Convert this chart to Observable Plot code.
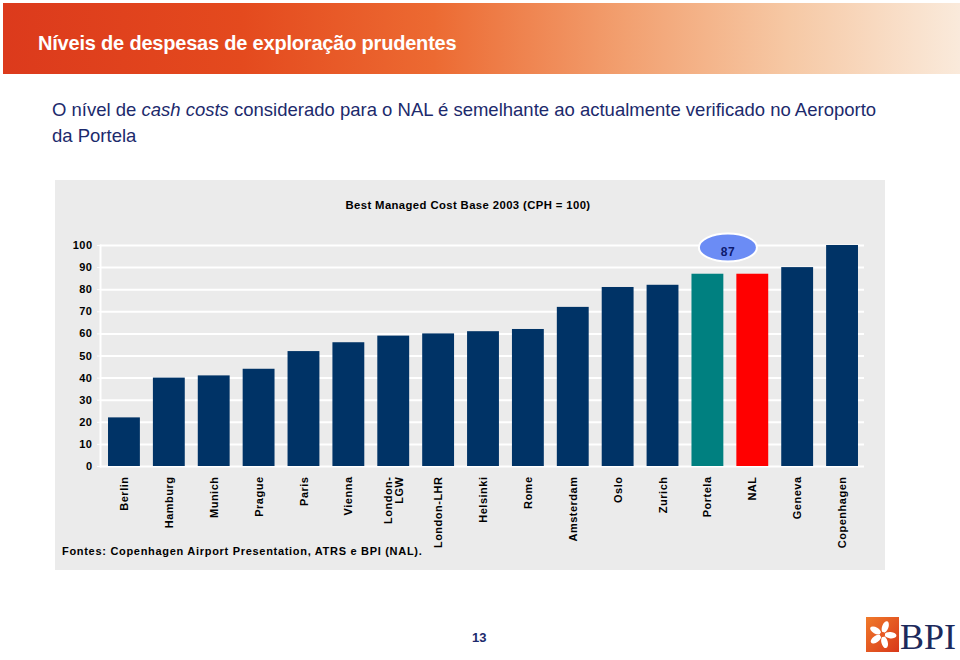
<!DOCTYPE html>
<html><head><meta charset="utf-8">
<script src="https://cdn.jsdelivr.net/npm/d3@7"></script>
<script src="https://cdn.jsdelivr.net/npm/@observablehq/plot@0.6"></script>
<style>
body{margin:0;width:960px;height:660px;position:relative;background:#fff;font-family:Arial,"Liberation Sans",sans-serif;overflow:hidden}
#banner{position:absolute;left:3px;top:3px;width:957px;height:71px;
 background:linear-gradient(90deg,#dc3a1c 0%,#e44a1e 25%,#ec6a32 45%,#f2a070 65%,#f6c8a4 82%,#faeadb 100%)}
#banner h1{position:absolute;left:35px;top:29px;margin:0;font-size:20px;font-weight:bold;color:#fff;letter-spacing:-0.2px}
#sub{position:absolute;left:52px;top:97px;width:860px;font-size:18.5px;line-height:26px;color:#1c2a6c;white-space:nowrap}
#sub .l{display:block}
#panel{position:absolute;left:55px;top:180px;width:830px;height:390px;background:#ebebeb}
#ptitle{position:absolute;left:0;width:826px;top:19px;text-align:center;font-size:11.3px;font-weight:bold;letter-spacing:0.4px;color:#000}
#note{position:absolute;left:7px;top:365px;font-size:11px;font-weight:bold;letter-spacing:0.7px;color:#000}
#chart{position:absolute;left:0;top:0}
#chart svg text{letter-spacing:0.5px}
#page{position:absolute;left:472px;top:630px;font-size:13px;font-weight:bold;color:#1c2a6c}
#logo{position:absolute;left:866px;top:616px}
</style></head><body>
<div id="banner"><h1>Níveis de despesas de exploração prudentes</h1></div>
<div id="sub"><div class="l"><span>O nível de </span><i>cash costs</i><span> considerado para o NAL é semelhante ao actualmente verificado no Aeroporto</span></div><div class="l"><span>da Portela</span></div></div>
<div id="panel">
  <div id="chart"></div>
  <div id="ptitle">Best Managed Cost Base 2003 (CPH = 100)</div>
  <div id="note">Fontes: Copenhagen Airport Presentation, ATRS e BPI (NAL).</div>
</div>
<div id="page">13</div>
<svg id="logo" width="94" height="40" viewBox="0 0 94 40">
  <defs><linearGradient id="lg" x1="0" y1="0" x2="1" y2="1"><stop offset="0" stop-color="#f07a2a"/><stop offset="1" stop-color="#d8381a"/></linearGradient></defs>
  <rect x="0" y="1" width="33" height="35" fill="url(#lg)"/>
  <g fill="#fff" transform="translate(16.5,18.5)">
    <ellipse cx="0" cy="-8" rx="3.2" ry="6" transform="rotate(20)"/>
    <ellipse cx="0" cy="-8" rx="3.2" ry="6" transform="rotate(95)"/>
    <ellipse cx="0" cy="-8" rx="3.2" ry="6" transform="rotate(165)"/>
    <ellipse cx="0" cy="-8" rx="3.2" ry="6" transform="rotate(235)"/>
    <ellipse cx="0" cy="-8" rx="3.2" ry="6" transform="rotate(300)"/>
    <circle r="2.5" fill="#e85a24"/>
  </g>
  <text x="34" y="33" font-family="'Liberation Serif','DejaVu Serif',serif" font-size="36" fill="#1c2a5c">BPI</text>
</svg>
<script>
const airports = ["Berlin","Hamburg","Munich","Prague","Paris","Vienna","London-LGW","London-LHR","Helsinki","Rome","Amsterdam","Oslo","Zurich","Portela","NAL","Geneva","Copenhagen"];
const costIndex = [22,40,41,44,52,56,59,60,61,62,72,81,82,87,87,90,100];
const groups = ["Outros","Outros","Outros","Outros","Outros","Outros","Outros","Outros","Outros","Outros","Outros","Outros","Outros","Portela","NAL","Outros","Outros"];
const groupDomain = ["Outros","Portela","NAL"];
const yTicks = [0,10,20,30,40,50,60,70,80,90,100];
const annotation = [{airport:"Portela", label:"87"}];

const data = airports.map((a,i)=>({airport:a, value:costIndex[i], group:groups[i]}));

const ellipse = {draw(ctx){
  const rx=29, ry=14, k=0.5523;
  ctx.moveTo(rx,0);
  ctx.bezierCurveTo(rx, ry*k, rx*k, ry, 0, ry);
  ctx.bezierCurveTo(-rx*k, ry, -rx, ry*k, -rx, 0);
  ctx.bezierCurveTo(-rx, -ry*k, -rx*k, -ry, 0, -ry);
  ctx.bezierCurveTo(rx*k, -ry, rx, -ry*k, rx, 0);
  ctx.closePath();
}};

const chart = Plot.plot({
  width: 830, height: 390,
  marginLeft: 45, marginRight: 21, marginTop: 65, marginBottom: 104,
  style: {background:"transparent", fontFamily:"Arial, 'Liberation Sans', sans-serif", color:"#000"},
  x: {domain: airports, padding: 0.29, range: [40, 816], round: false, label: null},
  y: {domain: [0,100], label: null},
  color: {domain: groupDomain, range: ["#003366","#008080","#ff0000"]},
  marks: [
    Plot.gridY(yTicks, {stroke:"white", strokeOpacity:1, strokeWidth:2}),
    Plot.frame({anchor:"left", stroke:"white", strokeWidth:2}),
    Plot.axisY(yTicks, {tickSize:3, stroke:"white", fill:"#000", tickPadding:5, fontWeight:"bold", fontSize:11, label:null}),
    Plot.barY(data, {x:"airport", y:"value", fill:"group"}),
    Plot.axisX({tickRotate:-90, tickSize:0, tickPadding:10, fontWeight:"bold", fontSize:11, fill:"#000", label:null,
      tickFormat: d => d === "London-LGW" ? "London-\nLGW" : d}),
    Plot.dot(annotation, {x:"airport", frameAnchor:"top", dy:2, dx:20, symbol: ellipse, r:5, fill:"#6b8cf5", stroke:"white", strokeWidth:2}),
    Plot.text(annotation, {x:"airport", text:"label", frameAnchor:"top", dy:2, dx:20, fontWeight:"bold", fontSize:12, fill:"#0d1a6e"})
  ]
});
document.getElementById("chart").appendChild(chart);
</script>
</body></html>
